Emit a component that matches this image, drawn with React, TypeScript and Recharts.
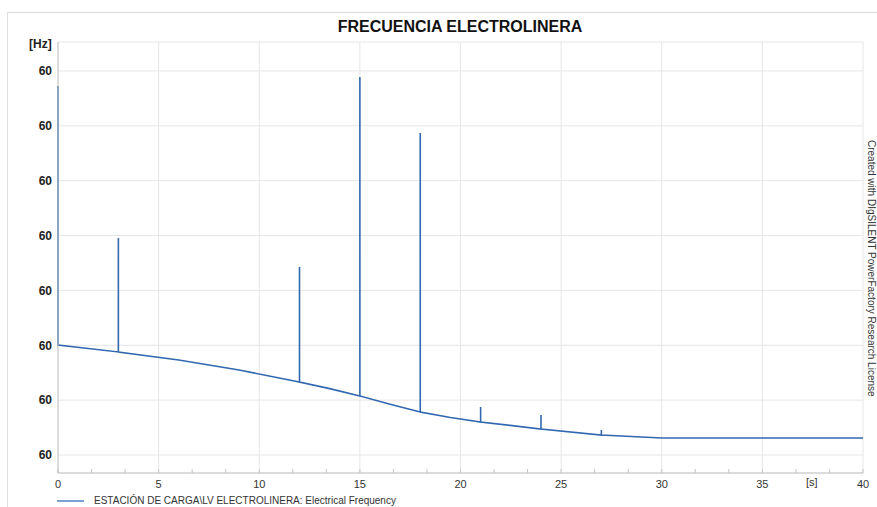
import { LineChart, Line, XAxis, YAxis, CartesianGrid } from "recharts";

// base frequency curve (s, Hz)
const baseTimes = [0, 3, 6, 9, 12, 13.5, 15, 16.5, 18, 19.5, 21, 24, 27, 30, 35, 40];
const baseHz = [
  60.01003, 60.00939, 60.00866, 60.00775, 60.00665, 60.00605, 60.00538, 60.00462,
  60.00392, 60.00342, 60.00301, 60.00237, 60.00182, 60.00155, 60.00155, 60.00155,
];

// spikes at switching instants
const spikeTimes = [0, 3, 12, 15, 18, 21, 24, 27];
const spikeHz = [60.03363, 60.01978, 60.01713, 60.03445, 60.02935, 60.00437, 60.00365, 60.00228];

const xTicks = [0, 5, 10, 15, 20, 25, 30, 35, 40];
const yTicks = [60.0, 60.005, 60.01, 60.015, 60.02, 60.025, 60.03, 60.035];
const xMinor = Array.from({ length: 33 }, (_, i) => i * 1.25);
const yMinor = Array.from({ length: 32 }, (_, i) => 60.0 + i * 0.00125);

const data: { t: number; f: number }[] = [];
baseTimes.forEach((t, i) => {
  const s = spikeTimes.indexOf(t);
  if (s === 0) {
    data.push({ t, f: spikeHz[s] });
    data.push({ t, f: baseHz[i] });
  } else if (s > 0) {
    data.push({ t, f: baseHz[i] });
    data.push({ t, f: spikeHz[s] });
    data.push({ t, f: baseHz[i] });
  } else {
    data.push({ t, f: baseHz[i] });
  }
});

const font = "'Liberation Sans', Arial, sans-serif";
const noLabel = () => <g />;
const legendText = "ESTACIÓN DE CARGA\\LV ELECTROLINERA: Electrical Frequency";

export default function App() {
  return (
    <div
      style={{
        position: "absolute",
        left: 0,
        top: 0,
        width: 877,
        height: 507,
        background: "#fff",
        fontFamily: font,
        overflow: "hidden",
      }}
    >
      <div
        style={{
          position: "absolute",
          left: 7,
          top: 12,
          width: 900,
          height: 600,
          border: "1px solid #dedede",
        }}
      />
      <div
        style={{
          position: "absolute",
          left: 0,
          width: 920,
          top: 18,
          textAlign: "center",
          fontWeight: "bold",
          fontSize: 16,
          color: "#111",
        }}
      >
        FRECUENCIA ELECTROLINERA
      </div>
      <div
        style={{
          position: "absolute",
          left: 29,
          top: 37,
          fontWeight: "bold",
          fontSize: 12,
          color: "#222",
        }}
      >
        [Hz]
      </div>
      <div
        style={{
          position: "absolute",
          left: 806,
          top: 476,
          fontSize: 11,
          color: "#333",
        }}
      >
        [s]
      </div>
      <div
        style={{
          position: "absolute",
          left: 877,
          top: 140,
          fontSize: 10,
          lineHeight: "11px",
          color: "#333",
          whiteSpace: "nowrap",
          transformOrigin: "0 0",
          transform: "rotate(90deg)",
        }}
      >
        Created with DIgSILENT PowerFactory Research License
      </div>
      <div
        style={{
          position: "absolute",
          left: 57,
          top: 495,
          display: "flex",
          alignItems: "center",
          fontSize: 10,
          color: "#333",
        }}
      >
        <div style={{ width: 27, height: 2, background: "#7aa3d4", marginRight: 10 }} />
        {legendText}
      </div>
      <LineChart
        width={877}
        height={507}
        data={data}
        margin={{ top: 42, right: 14, bottom: 14, left: 8 }}
        style={{ position: "absolute", left: 0, top: 0 }}
      >
        <CartesianGrid stroke="#e6e6e6" strokeWidth={1} />
        <XAxis
          dataKey="t"
          type="number"
          domain={[0, 40]}
          ticks={xTicks}
          interval={0}
          height={20}
          axisLine={{ stroke: "#c4c4c4" }}
          tickLine={false}
          tick={{ fontSize: 11, fill: "#333", fontFamily: font }}
          tickMargin={1}
        />
        <XAxis
          xAxisId="minor"
          type="number"
          domain={[0, 40]}
          ticks={xMinor}
          interval={0}
          mirror
          axisLine={false}
          tick={noLabel}
          tickSize={4}
          tickLine={{ stroke: "#c4c4c4" }}
        />
        <YAxis
          type="number"
          domain={[59.99836, 60.03764]}
          ticks={yTicks}
          interval={0}
          width={50}
          allowDataOverflow
          axisLine={{ stroke: "#c4c4c4" }}
          tickLine={false}
          tickFormatter={(v: number) => v.toFixed(0)}
          tick={{ fontSize: 12, fill: "#222", fontWeight: "bold", fontFamily: font }}
          tickMargin={0}
        />
        <YAxis
          yAxisId="minor"
          type="number"
          domain={[59.99836, 60.03764]}
          ticks={yMinor}
          interval={0}
          mirror
          axisLine={false}
          tick={noLabel}
          tickSize={4}
          tickLine={{ stroke: "#c4c4c4" }}
        />
        <Line
          dataKey="f"
          type="linear"
          stroke="#3268b0"
          strokeWidth={1.6}
          dot={false}
          isAnimationActive={false}
        />
      </LineChart>
    </div>
  );
}
